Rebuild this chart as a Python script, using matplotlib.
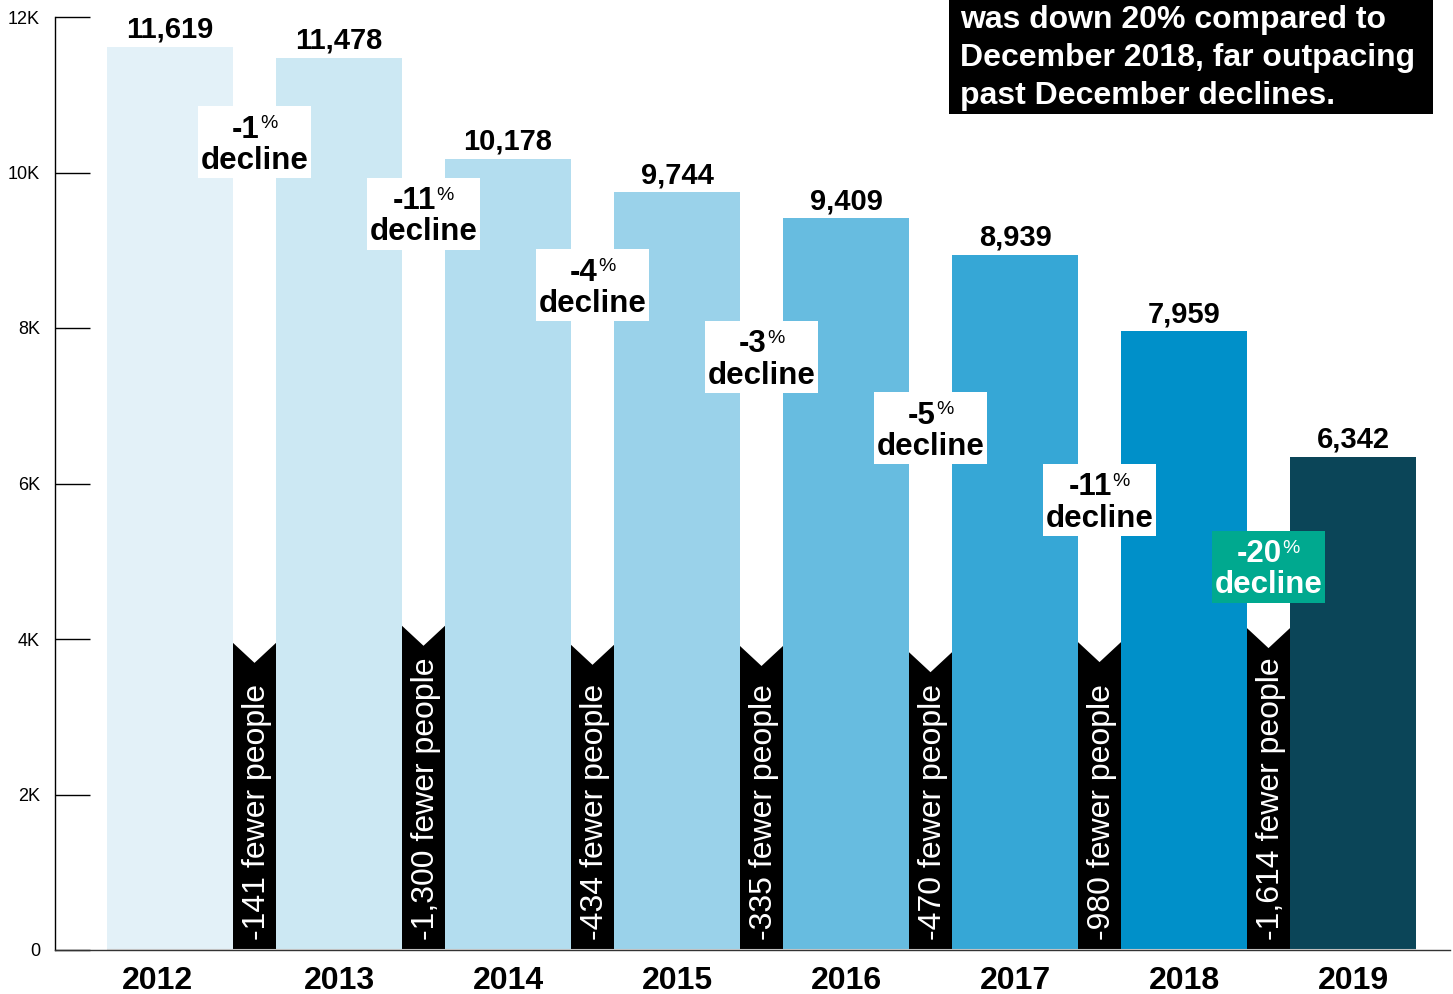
import matplotlib
matplotlib.use("Agg")
import matplotlib.pyplot as plt
from matplotlib.patches import Rectangle, Polygon
import matplotlib.transforms as mtrans
import numpy as np

plt.rcParams['font.family'] = ['Liberation Sans', 'DejaVu Sans']

# ---- data ----
years = ["2012", "2013", "2014", "2015", "2016", "2017", "2018", "2019"]
values = [11619, 11478, 10178, 9744, 9409, 8939, 7959, 6342]
fewer_people = [141, 1300, 434, 335, 470, 980, 1614]
pct_decline = [1, 11, 4, 3, 5, 11, 20]
ytick_vals = [0, 2000, 4000, 6000, 8000, 10000, 12000]
ytick_labels = ["0", "2K", "4K", "6K", "8K", "10K", "12K"]
note_lines = ["was down 20% compared to",
              "December 2018, far outpacing",
              "past December declines."]

# ---- styles / layout ----
bar_colors = ["#e3f1f8", "#cce8f3", "#b3ddef", "#9ad2ea",
              "#67bce0", "#36a7d6", "#0090c9", "#0b4558"]
strip_tops = [3950, 4170, 3925, 3910, 3830, 3960, 4140]
box_y = [10390, 9470, 8550, 7630, 6710, 5790, 4930]
box_face = ["white"] * 6 + ["#00a98f"]
box_text = ["black"] * 6 + ["white"]

W, H = 1453, 994
fig = plt.figure(figsize=(W / 100, H / 100), dpi=100)
ax = fig.add_axes([55 / W, 44 / H, 1395 / W, 933 / H])

bw = 126 / 169
x = np.arange(len(years))
ax.set_xlim(-(170 - 55) / 169, -(170 - 55) / 169 + 1395 / 169)
ax.set_ylim(0, 12000)

ax.bar(x, values, width=bw, color=bar_colors, zorder=3)

for xi, v in zip(x, values):
    ax.annotate(f"{v:,}", xy=(xi, v), xytext=(0, 6.5), textcoords="offset points",
                ha="center", va="baseline", fontsize=21, fontweight="bold", zorder=6)

notch = 20 * 12000 / 933
for i in range(len(fewer_people)):
    x0 = x[i] + bw / 2
    x1 = x[i + 1] - bw / 2
    xm = (x0 + x1) / 2
    t = strip_tops[i]
    poly = Polygon([(x0, 0), (x0, t), (xm, t - notch), (x1, t), (x1, 0)],
                   closed=True, facecolor="black", edgecolor="none", zorder=4)
    ax.add_patch(poly)
    ax.annotate(f"-{fewer_people[i]:,} fewer people", xy=(xm, 0), xytext=(1.5, 7.5),
                textcoords="offset points", rotation=90, ha="center", va="bottom",
                color="white", fontsize=23, zorder=5)

# decline boxes
bwid = 113 / 169
bh = 72 * 12000 / 933
num_dy = 9.0
pc_dx = 0.3
num_texts = []
for i in range(len(pct_decline)):
    xm = (x[i] + x[i + 1]) / 2
    by = box_y[i]
    ax.add_patch(Rectangle((xm - bwid / 2, by - bh / 2), bwid, bh,
                           facecolor=box_face[i], edgecolor="none", zorder=6))
    num = ax.annotate(f"-{pct_decline[i]}", xy=(xm, by), xytext=(0, num_dy),
                      textcoords="offset points", ha="center", va="center",
                      fontsize=22.5, fontweight="bold", color=box_text[i], zorder=7)
    pc = ax.annotate("%", xy=(1, 1), xycoords=num, xytext=(pc_dx, -0.5),
                     textcoords="offset points", ha="left", va="top",
                     fontsize=14, color=box_text[i], zorder=7)
    num_texts.append((num, pc))
    ax.annotate("decline", xy=(xm, by), xytext=(0, -13.5), textcoords="offset points",
                ha="center", va="center", fontsize=22.5, fontweight="bold",
                color=box_text[i], zorder=7)

# axes styling
for s in ["top", "right"]:
    ax.spines[s].set_visible(False)
ax.spines["left"].set_color("black")
ax.spines["bottom"].set_color("#333333")
ax.spines["left"].set_linewidth(1)
ax.spines["bottom"].set_linewidth(1)
ax.hlines(0, x[0] - bw / 2, x[-1] + bw / 2, color="#c0c0c0", lw=1.5, zorder=5)

ax.set_yticks(ytick_vals)
ax.set_yticklabels(ytick_labels)
ax.tick_params(axis="y", direction="in", length=25.2, width=1, pad=10.8,
               labelsize=13, color="black")
ax.set_xticks(x)
ax.set_xticklabels(years, fontsize=23, fontweight="bold")
ax.tick_params(axis="x", length=0, pad=11.5)
first = ax.get_xticklabels()[0]
first.set_transform(first.get_transform() +
                    mtrans.ScaledTranslation(-13 / 100, 0, fig.dpi_scale_trans))

# top-right note box
fig.add_artist(Rectangle((949 / W, 1 - 114 / H), 484 / W, 0.2,
                         transform=fig.transFigure, facecolor="black",
                         edgecolor="none", zorder=10))
for k, line in enumerate(note_lines):
    fig.text(960 / W, 1 - (28 + 38 * k) / H, line, ha="left", va="baseline",
             color="white", fontsize=23, fontweight="bold", zorder=11)

# center the "-N%" groups
fig.canvas.draw()
r = fig.canvas.get_renderer()
for num, pc in num_texts:
    w = pc.get_window_extent(r).width + pc_dx * 100 / 72
    num.xyann = (-(w / 2) * 72 / 100, num_dy)

fig.savefig("out.png", dpi=100)
